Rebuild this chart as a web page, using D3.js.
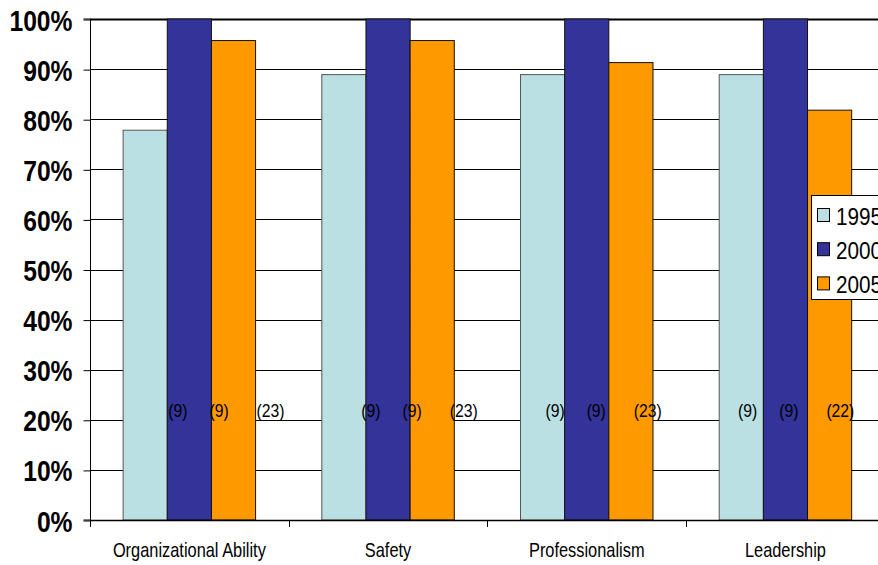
<!DOCTYPE html>
<html>
<head>
<meta charset="utf-8">
<script src="https://cdn.jsdelivr.net/npm/d3@7"></script>
<style>
  html, body { margin: 0; padding: 0; background: #fff; }
  svg { display: block; font-family: "Liberation Sans", Arial, sans-serif; }
</style>
</head>
<body>
<svg id="chart" width="878" height="565"></svg>
<script>
// ---- data ----
const categories = ["Organizational Ability", "Safety", "Professionalism", "Leadership"];
const seriesNames = ["1995", "2000", "2005"];
const values1995 = [0.778, 0.889, 0.889, 0.889];
const values2000 = [1.0, 1.0, 1.0, 1.0];
const values2005 = [0.957, 0.957, 0.913, 0.818];
const counts1995 = [9, 9, 9, 9];
const counts2000 = [9, 9, 9, 9];
const counts2005 = [23, 23, 23, 22];
const yTickValues = [0, 0.1, 0.2, 0.3, 0.4, 0.5, 0.6, 0.7, 0.8, 0.9, 1.0];
const yTickLabels = ["0%", "10%", "20%", "30%", "40%", "50%", "60%", "70%", "80%", "90%", "100%"];
const colors = ["#BBE0E3", "#333399", "#FF9900"];

// ---- layout ----
const plotLeft = 90, plotTop = 19, plotBottom = 520, plotRight = 884.8;
const countLabelLevel = 0.217;
const countLabelShift = [1, -4.6, -19.2, -25.3];

const svg = d3.select("#chart");
const seriesValues = [values1995, values2000, values2005];
const seriesCounts = [counts1995, counts2000, counts2005];

const x0 = d3.scaleBand().domain(categories).range([plotLeft, plotRight]).padding(0);
const x1 = d3.scaleBand().domain(seriesNames).range([0, x0.bandwidth()]).paddingInner(0).paddingOuter(0.75);
const y = d3.scaleLinear().domain([0, 1]).range([plotBottom, plotTop]);

// gridlines
svg.append("g").selectAll("line").data(yTickValues).join("line")
  .attr("x1", plotLeft).attr("x2", plotRight + 10)
  .attr("y1", d => Math.round(y(d)) + 0.5).attr("y2", d => Math.round(y(d)) + 0.5)
  .attr("stroke", "#000").attr("stroke-width", d => d === 1 ? 2 : 1);

// bars
const rows = [];
categories.forEach((c, ci) => {
  seriesNames.forEach((s, si) => {
    rows.push({cat: c, ci, series: s, si, value: seriesValues[si][ci], count: seriesCounts[si][ci]});
  });
});

svg.append("g").selectAll("rect").data(rows).join("rect")
  .attr("x", d => x0(d.cat) + x1(d.series))
  .attr("y", d => y(d.value))
  .attr("width", x1.bandwidth())
  .attr("height", d => y(0) - y(d.value))
  .attr("fill", d => colors[d.si])
  .attr("stroke", d => d.si === 0 ? "#555" : "#111")
  .attr("stroke-width", 1);

// count labels
svg.append("g").selectAll("g").data(rows).join("g")
  .attr("transform", d => {
    const xr = x0(d.cat) + x1(d.series) + x1.bandwidth() + countLabelShift[d.ci] + (d.si === 1 ? -3 : 0);
    return `translate(${xr},${y(countLabelLevel) + 6}) scale(0.9,1)`;
  })
  .append("text")
  .attr("font-size", 17.5)
  .attr("fill", "#000")
  .text(d => `(${d.count})`);

// y axis
const yAxis = d3.axisLeft(y).tickValues(yTickValues).tickSize(7).tickFormat((d, i) => yTickLabels[i]);
const yg = svg.append("g").attr("transform", `translate(${plotLeft + 0.5},0)`).call(yAxis);
yg.select(".domain").attr("stroke", "#000").attr("d", `M-7,${plotTop}H0V${plotBottom}H-7`);
yg.selectAll(".tick line").attr("stroke", "#000").attr("transform", "translate(0,0.5)");
yg.selectAll(".tick text")
  .attr("x", null).attr("dy", null)
  .attr("transform", "translate(-18,11) scale(0.85,1)")
  .attr("text-anchor", "end")
  .attr("font-size", 29)
  .attr("font-weight", "bold")
  .attr("fill", "#000")
  .attr("font-family", "'Liberation Sans', Arial, sans-serif");

// x axis line and ticks at band boundaries
svg.append("line").attr("x1", plotLeft).attr("x2", plotRight + 10)
  .attr("y1", plotBottom + 0.5).attr("y2", plotBottom + 0.5).attr("stroke", "#000").attr("stroke-width", 1.5);
svg.append("g").selectAll("line").data(categories).join("line")
  .attr("x1", d => Math.round(x0(d)) + 0.5).attr("x2", d => Math.round(x0(d)) + 0.5)
  .attr("y1", plotBottom).attr("y2", plotBottom + 7)
  .attr("stroke", "#000");

// category labels
svg.append("g").selectAll("g").data(categories).join("g")
  .attr("transform", d => `translate(${x0(d) + x0.bandwidth() / 2},557) scale(0.82,1)`)
  .append("text")
  .attr("text-anchor", "middle")
  .attr("font-size", 20)
  .attr("fill", "#000")
  .text(d => d);

// legend
const legend = svg.append("g");
legend.append("rect").attr("x", 811.5).attr("y", 195.5).attr("width", 120).attr("height", 104)
  .attr("fill", "#fff").attr("stroke", "#000").attr("stroke-width", 1);
const li = legend.selectAll("g.item").data(seriesNames).join("g").attr("class", "item")
  .attr("transform", (d, i) => `translate(0,${i * 34.2})`);
li.append("rect").attr("x", 817.5).attr("y", 208.5).attr("width", 12).attr("height", 13)
  .attr("fill", (d, i) => colors[i]).attr("stroke", "#000").attr("stroke-width", 1);
li.append("g").attr("transform", "translate(836,225) scale(0.9,1)")
  .append("text").attr("font-size", 23).attr("fill", "#000").text(d => d);
</script>
</body>
</html>
